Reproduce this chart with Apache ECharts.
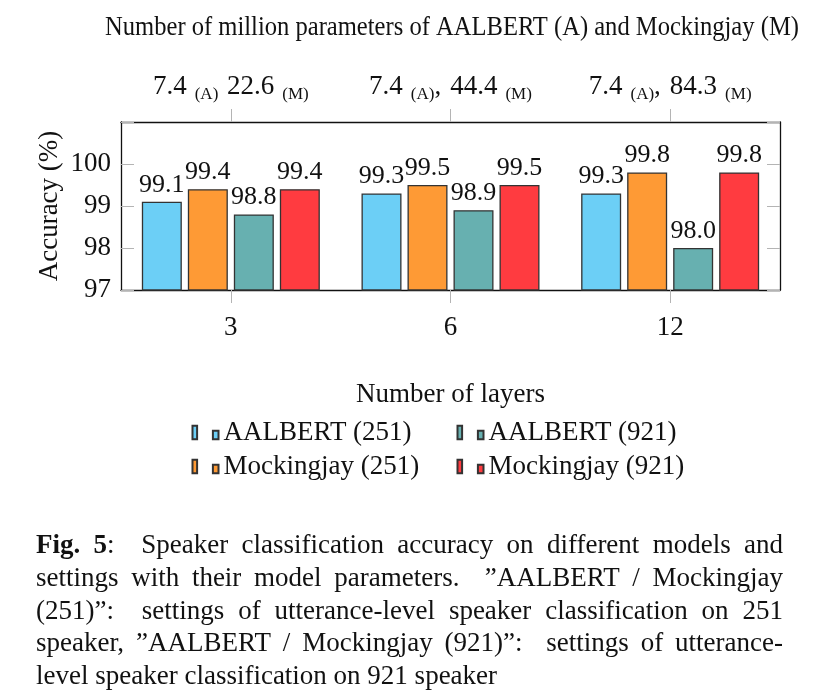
<!DOCTYPE html>
<html>
<head>
<meta charset="utf-8">
<script src="https://cdn.jsdelivr.net/npm/echarts@6/dist/echarts.min.js"></script>
<style>
html,body{margin:0;padding:0;background:#fff;}
#chart{width:817px;height:695px;}
</style>
</head>
<body>
<div id="chart"></div>
<script>
// ---- data ----
var categories = ['3', '6', '12'];
var aalbert251 = [99.1, 99.3, 99.3];
var mocking251 = [99.4, 99.5, 99.8];
var aalbert921 = [98.8, 98.9, 98.0];
var mocking921 = [99.4, 99.5, 99.8];
var paramA = ['7.4', '7.4', '7.4'];
var paramM = ['22.6', '44.4', '84.3'];
var paramSep = ['', ',', ','];
var seriesNames = ['AALBERT (251)', 'Mockingjay (251)', 'AALBERT (921)', 'Mockingjay (921)'];
var yTicks = [97, 98, 99, 100];
var titleText = 'Number of million parameters of AALBERT (A) and Mockingjay (M)';
var xName = 'Number of layers';
var yName = 'Accuracy (%)';
var captionLines = [
  '**Fig.** **5**:  Speaker classification accuracy on different models and',
  'settings with their model parameters.  \u201dAALBERT / Mockingjay',
  '(251)\u201d:  settings of utterance-level speaker classification on 251',
  'speaker, \u201dAALBERT / Mockingjay (921)\u201d:  settings of utterance-',
  'level speaker classification on 921 speaker'
];

// ---- style ----
var FONT = '"Liberation Serif", "Times New Roman", serif';
var colors = ['#6ccff6', '#fe9a35', '#67b0b0', '#ff3b40'];
var seriesData = [aalbert251, mocking251, aalbert921, mocking921];
var TICK = '#b4b4b4';

var chart = echarts.init(document.getElementById('chart'), null, {renderer: 'canvas'});

var legendIcon = 'path://M0,0h4.6v13.5h-4.6z M20.4,5h5.6v8.5h-5.6z';

var series = seriesNames.map(function (n, i) {
  return {
    name: n,
    type: 'bar',
    xAxisIndex: 0,
    yAxisIndex: 0,
    data: seriesData[i],
    barWidth: 40,
    barGap: '15%',
    itemStyle: {color: colors[i], borderColor: '#333', borderWidth: 1.3},
    label: {
      show: true, position: 'top', distance: 4,
      fontFamily: FONT, fontSize: 26, color: '#111',
      formatter: function (p) { return p.value.toFixed(1); }
    }
  };
});

// caption layout (justified using measured word widths)
var measureCtx = document.createElement('canvas').getContext('2d');
function parseWord(w) {
  var parts = [];
  var re = /\*\*(.+?)\*\*|([^*]+)/g, m;
  while ((m = re.exec(w))) {
    if (m[1] !== undefined) parts.push({t: m[1], b: true});
    else parts.push({t: m[2], b: false});
  }
  return parts;
}
function wordWidth(parts, size) {
  var w = 0;
  parts.forEach(function (p) {
    measureCtx.font = (p.b ? 'bold ' : '') + size + 'px ' + FONT;
    w += measureCtx.measureText(p.t).width;
  });
  return w;
}
function richText(parts) {
  return parts.map(function (p) {
    return p.b ? '{b|' + p.t + '}' : '{n|' + p.t.replace(/[{}]/g, '') + '}';
  }).join('');
}
var capLeft = 36, capRight = 783, capSize = 27, capTop = 546, capStep = 32.75;
var graphics = [];
captionLines.forEach(function (line, li) {
  var toks = line.split(/(\s+)/);
  var words = [], gaps = [];
  for (var k = 0; k < toks.length; k++) {
    if (k % 2 === 0) words.push(parseWord(toks[k]));
    else gaps.push(toks[k].length);
  }
  var widths = words.map(function (w) { return wordWidth(w, capSize); });
  var total = widths.reduce(function (a, b) { return a + b; }, 0);
  var gw = gaps.reduce(function (a, b) { return a + b; }, 0);
  measureCtx.font = capSize + 'px ' + FONT;
  var spaceW = measureCtx.measureText(' ').width;
  var justify = li < captionLines.length - 1;
  var unit = justify ? (capRight - capLeft - total) / gw : spaceW;
  var x = capLeft;
  words.forEach(function (w, wi) {
    graphics.push({
      type: 'text', x: x, y: capTop + li * capStep,
      style: {
        text: richText(w),
        textVerticalAlign: 'middle', textAlign: 'left',
        fill: '#111',
        rich: {
          b: {fontFamily: FONT, fontSize: capSize, fontWeight: 'bold', fill: '#111'},
          n: {fontFamily: FONT, fontSize: capSize, fill: '#111'}
        }
      }
    });
    x += widths[wi] + (wi < gaps.length ? gaps[wi] * unit : 0);
  });
});
graphics.push({
  type: 'text', x: 452, y: 28, scaleX: 0.91,
  style: {text: titleText, fontFamily: FONT, fontSize: 27, fill: '#111', textAlign: 'center', textVerticalAlign: 'middle'}
});

var option = {
  backgroundColor: '#fff',
  animation: false,
  textStyle: {fontFamily: FONT},
  grid: {left: 121, top: 122, right: 37, bottom: 405, containLabel: false},
  legend: [
    {
      data: [seriesNames[0], seriesNames[1]],
      orient: 'vertical', left: 191.5, top: 419, itemGap: 7, padding: 0,
      icon: legendIcon, itemWidth: 26, itemHeight: 13.5,
      textStyle: {fontFamily: FONT, fontSize: 27, color: '#111'},
      selectedMode: false
    },
    {
      data: [seriesNames[2], seriesNames[3]],
      orient: 'vertical', left: 456.5, top: 419, itemGap: 7, padding: 0,
      icon: legendIcon, itemWidth: 26, itemHeight: 13.5,
      textStyle: {fontFamily: FONT, fontSize: 27, color: '#111'},
      selectedMode: false
    }
  ],
  xAxis: [
    {
      type: 'category', data: categories, position: 'bottom',
      axisLine: {show: true, onZero: false, lineStyle: {color: '#111', width: 1.3}},
      axisTick: {show: true, inside: false, length: 13, alignWithLabel: true, lineStyle: {color: TICK, width: 1}},
      axisLabel: {fontFamily: FONT, fontSize: 27, color: '#111', margin: 24},
      name: xName, nameLocation: 'middle', nameGap: 91, nameMoveOverlap: false,
      nameTextStyle: {fontFamily: FONT, fontSize: 27, color: '#111'}
    },
    {
      type: 'category', data: categories, position: 'top',
      axisLine: {show: true, onZero: false, lineStyle: {color: '#111', width: 1.3}},
      axisTick: {show: true, inside: false, length: 13, alignWithLabel: true, lineStyle: {color: TICK, width: 1}},
      axisLabel: {
        margin: 20, interval: 0, hideOverlap: false, fontSize: 27, fontFamily: FONT,
        formatter: function (v, i) {
          var sep = paramSep[i] ? '{c|' + paramSep[i] + '}' : '{g| }';
          return '{m|' + paramA[i] + '}{s|(A)}' + sep + '{m|' + paramM[i] + '}{s|(M)}';
        },
        rich: {
          m: {fontFamily: FONT, fontSize: 27, color: '#111', lineHeight: 30},
          c: {fontFamily: FONT, fontSize: 27, color: '#111', lineHeight: 30, padding: [0, 9, 0, 0]},
          g: {fontFamily: FONT, fontSize: 27, color: '#111', lineHeight: 30, padding: [0, 2, 0, 0]},
          s: {fontFamily: FONT, fontSize: 17, color: '#111', lineHeight: 17, padding: [16, 0, 0, 8]}
        }
      }
    }
  ],
  yAxis: [
    {
      type: 'value', min: 97, max: 101, interval: 1, position: 'left',
      axisLine: {show: true, lineStyle: {color: '#111', width: 1.3}},
      axisTick: {show: true, inside: true, length: 13, lineStyle: {color: TICK, width: 1}},
      splitLine: {show: false},
      axisLabel: {
        fontFamily: FONT, fontSize: 27, color: '#111', margin: 10,
        formatter: function (v) { return yTicks.indexOf(v) >= 0 ? String(v) : ''; }
      },
      name: yName, nameLocation: 'middle', nameGap: 58, nameRotate: 90, nameMoveOverlap: false,
      nameTextStyle: {fontFamily: FONT, fontSize: 27, color: '#111'}
    },
    {
      type: 'value', min: 97, max: 101, interval: 1, position: 'right',
      axisLine: {show: true, lineStyle: {color: '#111', width: 1.3}},
      axisTick: {show: true, inside: true, length: 13, lineStyle: {color: TICK, width: 1}},
      splitLine: {show: false},
      axisLabel: {show: false}
    }
  ],
  series: series,
  graphic: graphics
};
chart.setOption(option);
</script>
</body>
</html>
